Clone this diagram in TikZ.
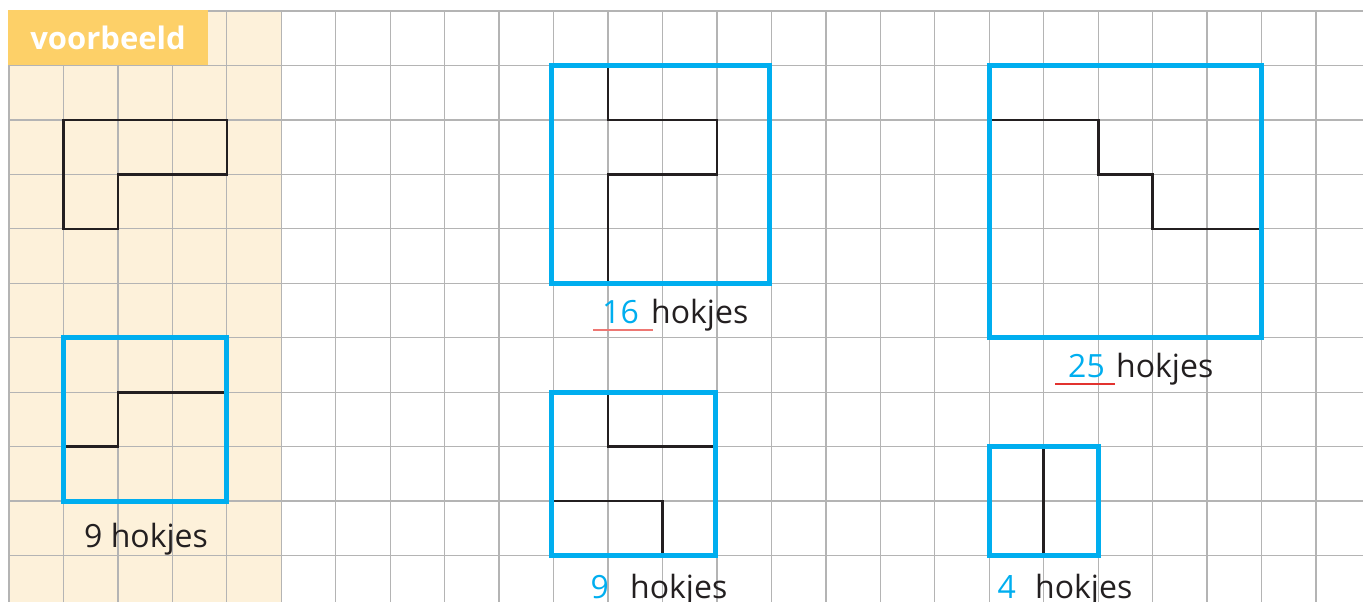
\documentclass[tikz,border=0pt]{standalone}
\usepackage{fontspec}
\setmainfont{Open Sans}
\definecolor{cream}{HTML}{FDF1DA}
\definecolor{labelyellow}{HTML}{FDD068}
\definecolor{gridgray}{HTML}{B4B4B4}
\definecolor{cyanblue}{HTML}{00AEEF}
\definecolor{inkblack}{HTML}{231F20}
\definecolor{salmon}{HTML}{EE7773}
\definecolor{markred}{HTML}{E2332F}
\tikzset{
  gridline/.style={draw=gridgray, line width=1.3pt},
  blueframe/.style={draw=cyanblue, line width=5pt},
  shapeline/.style={draw=inkblack, line width=2.6pt},
  answer/.style={text=cyanblue, font=\fontsize{32}{39}\selectfont, inner sep=0pt, anchor=base east},
  unitword/.style={text=inkblack, font=\fontsize{32}{39}\selectfont, inner sep=0pt, anchor=base west},
  underlineA/.style={draw=salmon, line width=1.6pt},
  underlineB/.style={draw=markred, line width=1.6pt}
}
\begin{document}
\begin{tikzpicture}[x=1pt,y=-1pt]
\useasboundingbox (0,0) rectangle (1363,602);
% shaded example column
\fill[cream] (9,11) rectangle (281.3,602);
\begin{scope}[shift={(9,11)}, x=54.46pt, y=-54.46pt]
  \foreach \i in {0,...,10} \draw[gridline] (0,\i) -- (24.862,\i);
  \foreach \i in {0,...,24} \draw[gridline] (\i,0) -- (\i,10.852);
\end{scope}
% label box
\fill[labelyellow] (8.35,10.3) rectangle (208,65);
\node[text=white, font=\bfseries\fontsize{31}{36}\selectfont, inner sep=0pt, anchor=base] (lbl) at (108,50) {voorbeeld};
\begin{scope}[shift={(9,11)}, x=54.46pt, y=-54.46pt]
  % example
  \draw[shapeline] (1,2) -- (4,2) -- (4,3) -- (2,3) -- (2,4) -- (1,4) -- cycle;
  \draw[shapeline] (1,8) -- (2,8) -- (2,7) -- (4,7);
  \draw[blueframe] (1,6) rectangle (4,9);
  % 4x4
  \draw[shapeline] (11,1) -- (11,2) -- (13,2) -- (13,3) -- (11,3) -- (11,5);
  \draw[blueframe] (9.96,1) rectangle (13.96,5);
  % 5x5
  \draw[shapeline] (18,2) -- (20,2) -- (20,3) -- (21,3) -- (21,4) -- (23,4);
  \draw[blueframe] (18,1) rectangle (23,6);
  % 3x3
  \draw[shapeline] (11,7) -- (11,8) -- (13,8);
  \draw[shapeline] (10,9) -- (12,9) -- (12,10);
  \draw[blueframe] (9.96,7) rectangle (12.98,10);
  % 2x2
  \draw[shapeline] (19,8) -- (19,10);
  \draw[blueframe] (18,8) rectangle (20,10);
\end{scope}
% labels
\node[unitword] (ex) at (84,547) {9 hokjes};
\draw[underlineA] (593,330) -- (653,330);
\node[answer] (a16) at (639,323) {16};
\node[unitword] (w16) at (651,323) {hokjes};
\draw[underlineB] (1055,384) -- (1115,384);
\node[answer] (a25) at (1105,377) {25};
\node[unitword] (w25) at (1116,377) {hokjes};
\node[answer] (a9) at (609,598) {9};
\node[unitword] (w9) at (630,598) {hokjes};
\node[answer] (a4) at (1016,598) {4};
\node[unitword] (w4) at (1035,598) {hokjes};
\end{tikzpicture}
\end{document}
